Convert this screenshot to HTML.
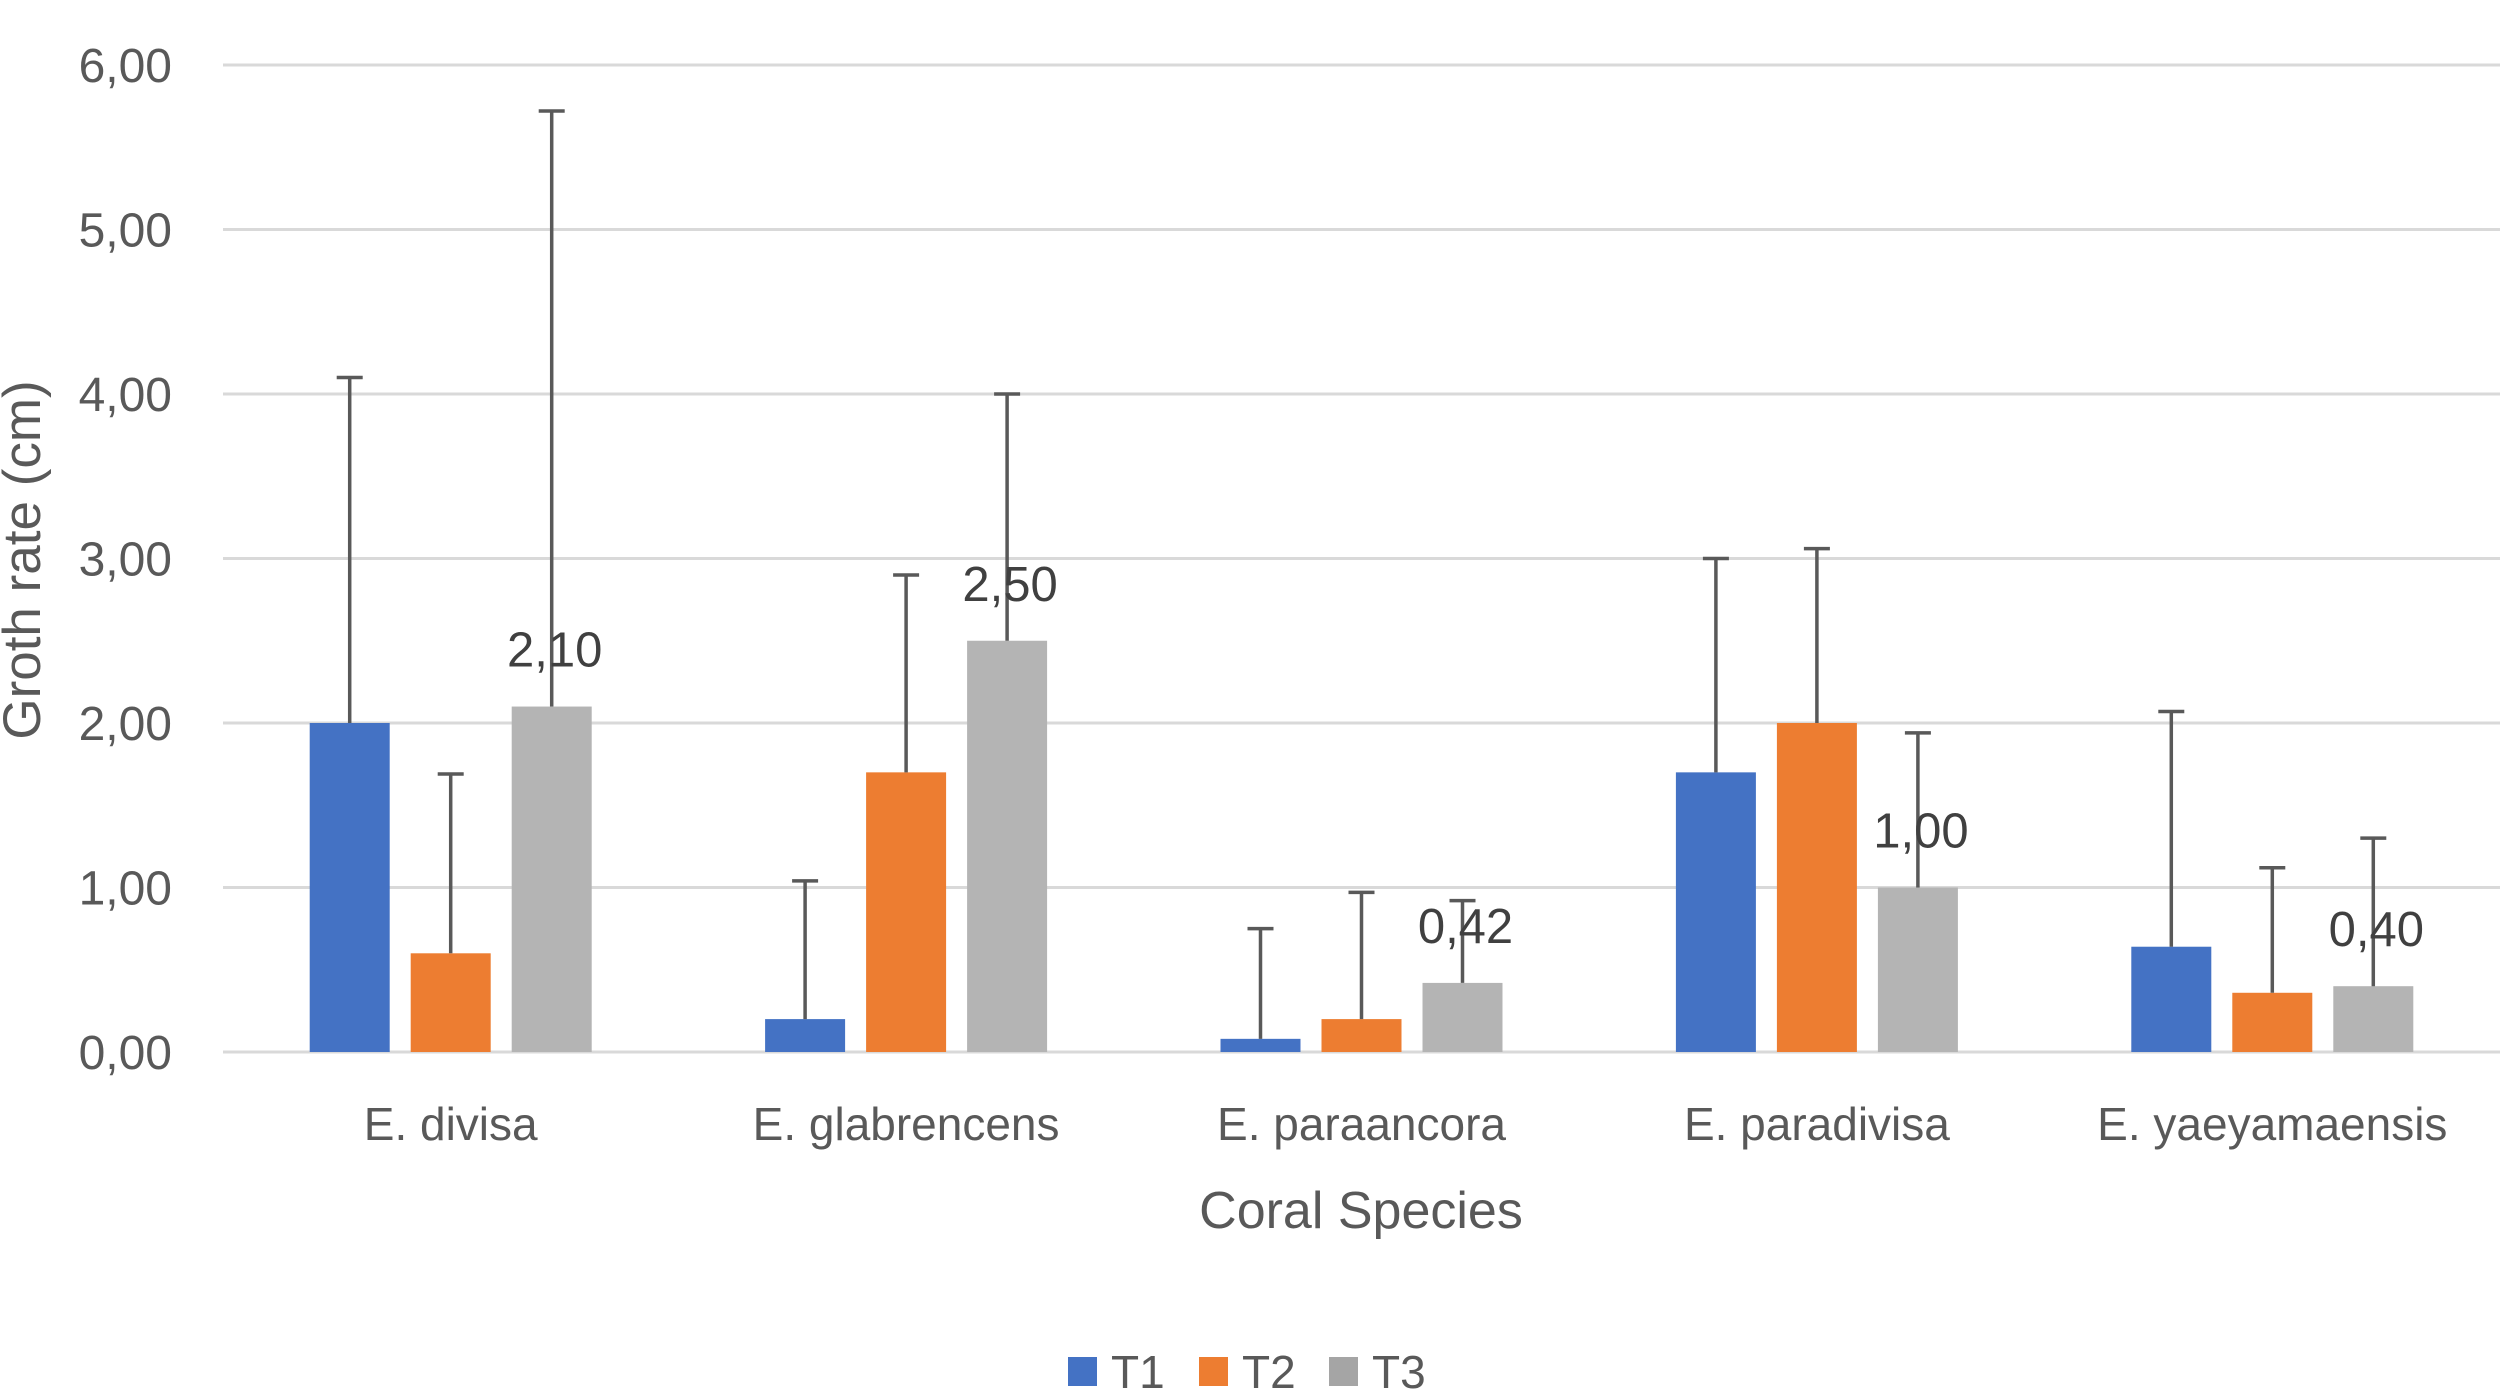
<!DOCTYPE html>
<html><head><meta charset="utf-8"><style>
html,body{margin:0;padding:0;background:#fff;}
svg{display:block;font-family:"Liberation Sans",sans-serif;}
</style></head><body>
<svg id="chart" width="2500" height="1391" viewBox="0 0 2500 1391">
<g id="grid"></g>
<g id="yticks"></g>
<g id="bars"></g>
<g id="xlabels"></g>
<text transform="translate(40,560) rotate(-90)" text-anchor="middle" font-size="53" fill="#595959">Groth rate (cm)</text>
<text x="1361" y="1228" text-anchor="middle" font-size="52" fill="#595959">Coral Species</text>
<g id="legend"></g>
</svg>
<script>
const categories = ["E. divisa","E. glabrencens","E. paraancora","E. paradivisa","E. yaeyamaensis"];
const seriesNames = ["T1","T2","T3"];
const t1Values = [2.00, 0.20, 0.08, 1.70, 0.64];
const t2Values = [0.60, 1.70, 0.20, 2.00, 0.36];
const t3Values = [2.10, 2.50, 0.42, 1.00, 0.40];
const t1Errors = [2.10, 0.84, 0.67, 1.30, 1.43];
const t2Errors = [1.09, 1.20, 0.77, 1.06, 0.76];
const t3Errors = [3.62, 1.50, 0.50, 0.94, 0.90];
const t3Labels = ["2,10","2,50","0,42","1,00","0,40"];
const yTicks = [0,1,2,3,4,5,6];
const yTickLabels = ["0,00","1,00","2,00","3,00","4,00","5,00","6,00"];

const colors = ["#4472C4","#ED7D31","#A5A5A5"];
const barColors = ["#4472C4","#ED7D31","#B4B4B4"];
const NS = "http://www.w3.org/2000/svg";
const plotLeft = 223, plotRight = 2500, y0 = 1052, y6 = 65;
const yScale = v => y0 - (v / 6) * (y0 - y6);
const groupW = (plotRight - plotLeft) / categories.length;
const xCenter = i => plotLeft + groupW * (i + 0.5);
const barW = 80, barStep = 101;
function mk(tag, attrs, parent){ const e=document.createElementNS(NS,tag); for(const k in attrs) e.setAttribute(k,attrs[k]); parent.appendChild(e); return e; }

const grid = document.getElementById('grid'), yt = document.getElementById('yticks');
yTicks.forEach((t,i)=>{
  const l = mk('line',{x1:plotLeft,x2:plotRight,y1:yScale(t),y2:yScale(t),stroke:'#d9d9d9','stroke-width':3},grid);
  
  
  const tx = mk('text',{x:172,y:yScale(t)+17,'text-anchor':'end','font-size':48,fill:'#595959'},yt);
  tx.textContent = yTickLabels[i];
  
  
});

const bars = document.getElementById('bars');
const vals = [t1Values,t2Values,t3Values], errs = [t1Errors,t2Errors,t3Errors];
categories.forEach((c,i)=>{
  for(let s=0;s<3;s++){
    const v = vals[s][i], cx = xCenter(i) + (s-1)*barStep;
    const r = mk('rect',{x:cx-barW/2,y:yScale(v),width:barW,height:y0-yScale(v),fill:barColors[s]},bars);
    
    
    const top = yScale(v+errs[s][i]);
    const el = mk('line',{x1:cx,x2:cx,y1:yScale(v),y2:top,stroke:'#595959','stroke-width':3.5},bars);
    
    
    const cap = mk('line',{x1:cx-13,x2:cx+13,y1:top,y2:top,stroke:'#595959','stroke-width':3.5},bars);
    
    
    if(s===2){
      const lb = mk('text',{x:cx+3,y:yScale(v)-40,'text-anchor':'middle','font-size':49,fill:'#404040'},bars);
      lb.textContent = t3Labels[i];
      
      
    }
  }
  const xl = mk('text',{x:xCenter(i),y:1140,'text-anchor':'middle','font-size':46,fill:'#595959'},document.getElementById('xlabels'));
  xl.textContent = c;
  
  
});

const lg = document.getElementById('legend');
const legX = [1068,1199,1329];
seriesNames.forEach((n,s)=>{
  const sq = mk('rect',{x:legX[s],y:1357,width:29,height:29,fill:colors[s]},lg);
  
  
  const t = mk('text',{x:legX[s]+43,y:1388,'font-size':46,fill:'#595959'},lg);
  t.textContent = n;
  
  
});
</script>
</body></html>
